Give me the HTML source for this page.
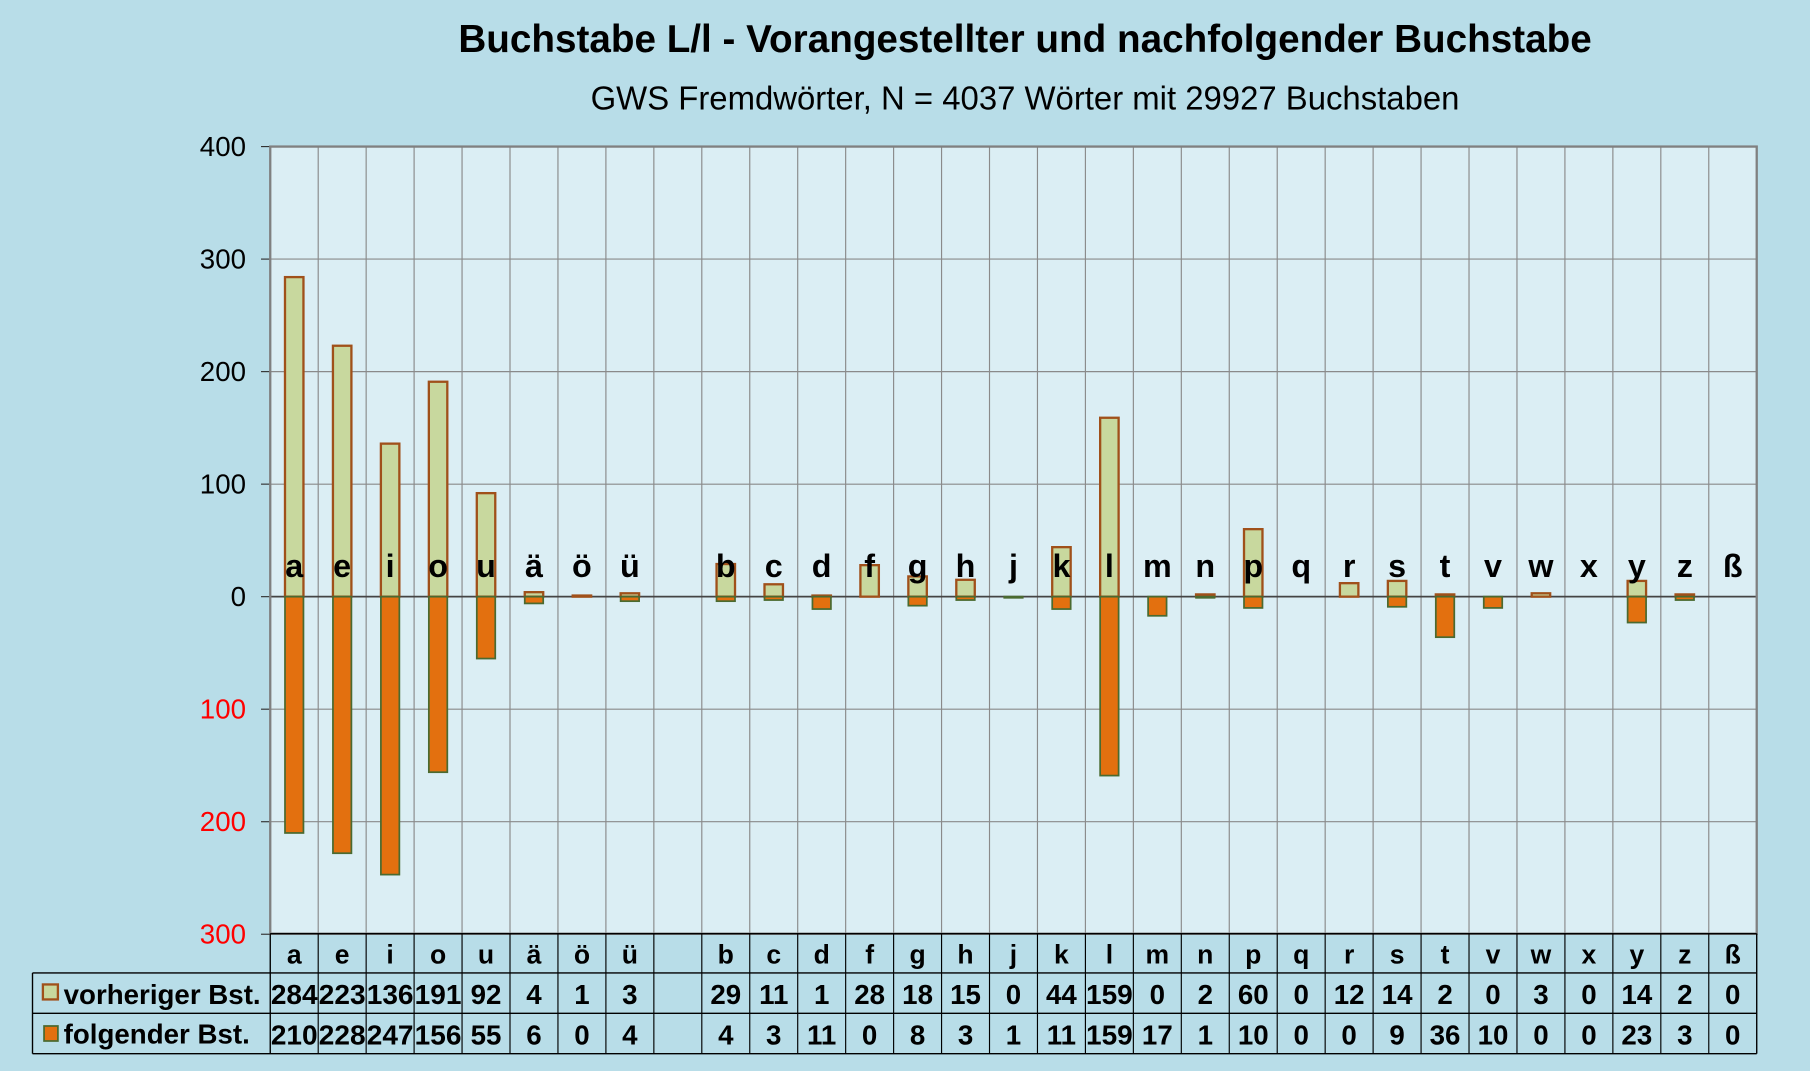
<!DOCTYPE html>
<html><head><meta charset="utf-8"><style>
html,body{margin:0;padding:0;background:#b8dde8;}
svg{display:block;font-family:"Liberation Sans",Arial,sans-serif;}
</style></head><body>
<svg id="c" width="1810" height="1071" viewBox="0 0 1568 928" xmlns="http://www.w3.org/2000/svg">
<rect width="1568" height="928" fill="#b8dde8"/>
<text x="888" y="45" font-size="33.5" font-weight="bold" text-anchor="middle">Buchstabe L/l - Vorangestellter und nachfolgender Buchstabe</text>
<text x="888" y="95" font-size="28.5" text-anchor="middle">GWS Fremdwörter,  N = 4037 Wörter mit 29927 Buchstaben</text>
<rect x="234" y="127" width="1288" height="682" fill="#dbeef4"/>
<g id="g"></g>
</svg>
<script>
const L=["a","e","i","o","u","ä","ö","ü","","b","c","d","f","g","h","j","k","l","m","n","p","q","r","s","t","v","w","x","y","z","ß"];
const P=[284,223,136,191,92,4,1,3,null,29,11,1,28,18,15,0,44,159,0,2,60,0,12,14,2,0,3,0,14,2,0];
const F=[210,228,247,156,55,6,0,4,null,4,3,11,0,8,3,1,11,159,17,1,10,0,0,9,36,10,0,0,23,3,0];
const x0=234,x1=1522,y0=517,k=0.975,cw=(x1-x0)/31;
let s="";
function ln(a,b,c,d,col,w){s+=`<line x1="${a}" y1="${b}" x2="${c}" y2="${d}" stroke="${col}" stroke-width="${w}"/>`;}
for(let i=1;i<31;i++){const x=x0+i*cw;ln(x,127,x,809,"#8a8a8a",1);}
for(let v=-300;v<=400;v+=100){const y=y0-v*k;ln(x0,y,x1,y,"#8a8a8a",1);
 ln(x0-8,y,x0,y,"#333",1);
 s+=`<text x="213" y="${y+8}" font-size="24" text-anchor="end" fill="${v<0?'#ff0000':'#000'}">${Math.abs(v)}</text>`;}
ln(x0,y0,x1,y0,"#444",1.5);
for(let i=0;i<31;i++){if(P[i]===null)continue;const cx=x0+(i+0.5)*cw;
 if(P[i]>0)s+=`<rect x="${cx-8}" y="${y0-P[i]*k}" width="16" height="${P[i]*k}" fill="#c8d89e" stroke="#a0501a" stroke-width="2"/>`;
 if(F[i]>0)s+=`<rect x="${cx-8}" y="${y0}" width="16" height="${F[i]*k}" fill="#e3700f" stroke="#4a6a30" stroke-width="1.5"/>`;
 s+=`<text x="${cx}" y="500" font-size="28" font-weight="bold" text-anchor="middle">${L[i]}</text>`;}
s+=`<rect x="${x0}" y="127" width="1288" height="682" fill="none" stroke="#808080" stroke-width="2"/>`;
ln(x0,809,x0,913,"#000",1.2);ln(x1,809,x1,913,"#000",1.2);
ln(28,843,x1,843,"#000",1.2);ln(28,878,x1,878,"#000",1.2);ln(28,913,x1,913,"#000",1.2);
ln(28,843,28,913,"#000",1.2);ln(x0,809,x1,809,"#000",1.2);
for(let i=1;i<31;i++){const x=x0+i*cw;ln(x,809,x,913,"#000",1);}
function num(cx,y,v){const t=String(v);
 return `<text x="${cx}" y="${y}" font-size="24" font-weight="bold" text-anchor="middle"${t.length>2?` textLength="${cw-1}" lengthAdjust="spacingAndGlyphs"`:''}>${t}</text>`;}
for(let i=0;i<31;i++){const cx=x0+(i+0.5)*cw;
 s+=`<text x="${cx}" y="835" font-size="23" font-weight="bold" text-anchor="middle">${L[i]}</text>`;
 if(P[i]!==null){s+=num(cx,870,P[i]);s+=num(cx,905,F[i]);}}
s+=`<rect x="37" y="853" width="13" height="13" fill="#c8d89e" stroke="#a0501a" stroke-width="2"/>`;
s+=`<text x="55" y="870" font-size="24" font-weight="bold">vorheriger Bst.</text>`;
s+=`<rect x="38" y="889" width="12" height="13" fill="#e3700f" stroke="#4a6a30" stroke-width="1.5"/>`;
s+=`<text x="55" y="904" font-size="24" font-weight="bold">folgender Bst.</text>`;
document.getElementById("g").innerHTML=s;
</script>
</body></html>
